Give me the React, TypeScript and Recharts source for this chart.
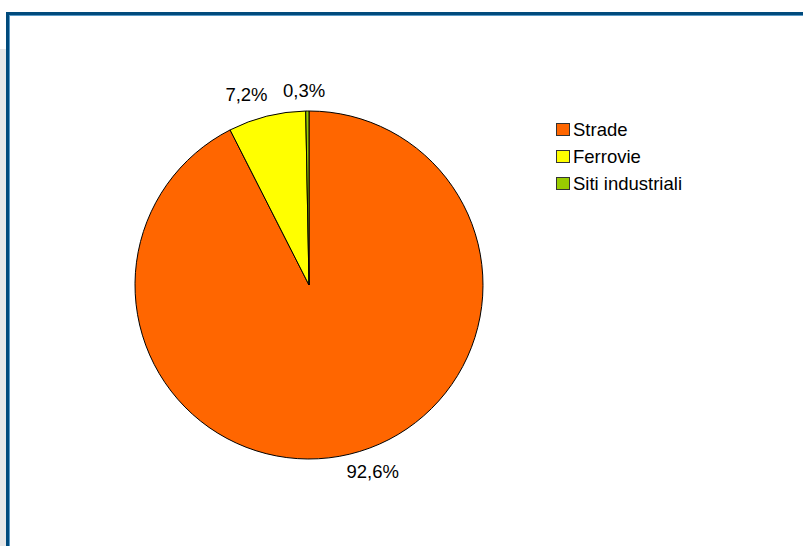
import React from 'react';
import { PieChart, Pie, Cell } from 'recharts';

const categories = ['Strade', 'Ferrovie', 'Siti industriali'];
const values = [92.6, 7.2, 0.3];
const valueLabels = ['92,6%', '7,2%', '0,3%'];
const colors = ['#FF6600', '#FFFF00', '#99CC00'];

const data = categories.map((name, i) => ({ name, value: values[i], label: valueLabels[i] }));

const FONT = '"Liberation Sans", Arial, sans-serif';
const labelNudge: [number, number][] = [
  [18, -4],
  [-15, 0],
  [-3, 1],
];

const RADIAN = Math.PI / 180;
const renderLabel = (props: any) => {
  const { cx, cy, midAngle, outerRadius, index } = props;
  const r = outerRadius + 22;
  const x = cx + r * Math.cos(-midAngle * RADIAN) + labelNudge[index][0];
  const y = cy + r * Math.sin(-midAngle * RADIAN) + labelNudge[index][1];
  return (
    <text x={x} y={y} textAnchor="middle" dominantBaseline="central" fill="#000" fontSize={18.5} fontFamily={FONT}>
      {valueLabels[index]}
    </text>
  );
};

export default function App() {
  return (
    <div style={{ position: 'fixed', left: 0, top: 0, width: 803, height: 546, background: '#fff', overflow: 'hidden' }}>
      <div style={{ position: 'absolute', left: 0, top: 49, width: 6, height: 497, background: '#E6E7E8' }} />
      <div style={{ position: 'absolute', left: 6, top: 12, width: 797, height: 3, background: '#004A7C' }} />
      <div style={{ position: 'absolute', left: 6, top: 12, width: 3, height: 534, background: '#004A7C' }} />
      <div style={{ position: 'absolute', left: 9, top: 15, width: 794, height: 1, background: '#5B9BC8' }} />
      <div style={{ position: 'absolute', left: 9, top: 15, width: 1, height: 531, background: '#5B9BC8' }} />
      <div style={{ position: 'absolute', left: 0, top: 0 }}>
        <PieChart width={803} height={546}>
          <Pie
            data={data}
            dataKey="value"
            nameKey="name"
            cx={304}
            cy={280}
            outerRadius={174}
            startAngle={90}
            endAngle={-270}
            stroke="#000"
            strokeWidth={1}
            label={renderLabel}
            labelLine={false}
            isAnimationActive={false}
          >
            {data.map((d, i) => (
              <Cell key={d.name} fill={colors[i]} />
            ))}
          </Pie>
        </PieChart>
      </div>
      <div style={{ position: 'absolute', left: 556, top: 116, fontFamily: FONT, fontSize: 18.5, color: '#000' }}>
        {categories.map((c, i) => (
          <div key={c} style={{ display: 'flex', alignItems: 'center', height: 27, whiteSpace: 'nowrap' }}>
            <span style={{ display: 'inline-block', boxSizing: 'border-box', width: 14, height: 13, background: colors[i], border: '1px solid #333', marginRight: 3 }} />
            <span>{c}</span>
          </div>
        ))}
      </div>
    </div>
  );
}
